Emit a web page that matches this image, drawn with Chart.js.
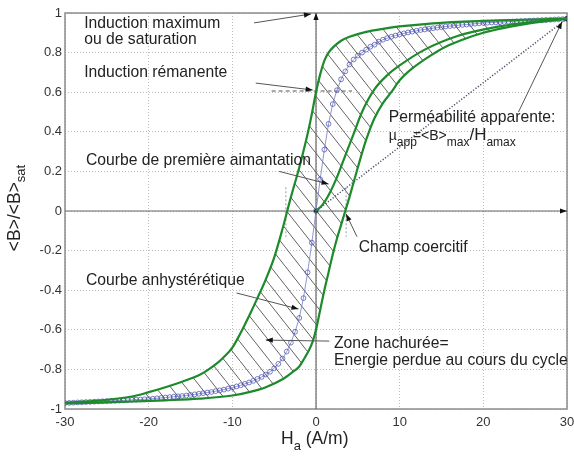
<!DOCTYPE html>
<html>
<head>
<meta charset="utf-8">
<script src="https://cdn.jsdelivr.net/npm/chart.js@4.4.0/dist/chart.umd.min.js"></script>
<style>
  html, body { margin: 0; padding: 0; background: #fff; }
</style>
</head>
<body>
<canvas id="cycleChart" width="574" height="459"></canvas>
<script>
// Branche descendante du cycle (rangée par H croissant)
const upperH = [-30, -26, -22, -20, -18, -16, -14, -13, -12, -11, -10, -9, -8, -7, -6, -5, -4, -3, -2, -1, -0.5, 0, 0.5, 1, 1.5, 2, 3, 4, 6, 8, 10, 14, 20, 25, 30];
const upperB = [-0.968, -0.958, -0.937, -0.915, -0.89, -0.862, -0.83, -0.805, -0.775, -0.737, -0.69, -0.615, -0.53, -0.44, -0.345, -0.235, -0.09, 0.07, 0.22, 0.39, 0.49, 0.6, 0.69, 0.76, 0.8, 0.825, 0.86, 0.88, 0.905, 0.92, 0.932, 0.948, 0.96, 0.966, 0.972];

// Branche ascendante
const lowerH = [-30, -26, -22, -18, -14, -10, -8, -6, -4, -3, -2, -1.4, -0.8, -0.4, 0, 0.5, 1, 1.5, 2, 2.5, 3, 3.5, 4, 5, 6, 7, 8, 9, 10, 11.5, 13.5, 15.5, 17.5, 20, 22.5, 25.5, 30];
const lowerB = [-0.972, -0.968, -0.962, -0.956, -0.948, -0.932, -0.915, -0.89, -0.85, -0.82, -0.785, -0.745, -0.7, -0.66, -0.6, -0.5, -0.4, -0.31, -0.22, -0.14, -0.07, 0, 0.07, 0.22, 0.36, 0.47, 0.545, 0.6, 0.66, 0.72, 0.78, 0.83, 0.865, 0.9, 0.925, 0.948, 0.972];

// Courbe de première aimantation
const firstH = [0, 0.75, 1.5, 2.5, 3.5, 4.5, 5.5, 7, 8.5, 10, 13, 17, 21, 25, 30];
const firstB = [0, 0.03, 0.08, 0.17, 0.28, 0.39, 0.5, 0.615, 0.685, 0.735, 0.815, 0.885, 0.925, 0.95, 0.972];

// Courbe anhystérétique (points marqués)
const anhystH = [
  -30, -29.5, -29, -28.5, -28, -27.5, -27, -26.5, -26, -25.5, -25, -24.5, -24, -23.5, -23, -22.5, -22, -21.5, -21, -20.5,
  -20, -19.5, -19, -18.5, -18, -17.5, -17, -16.5, -16, -15.5, -15, -14.5, -14, -13.5, -13, -12.5, -12, -11.5, -11, -10.5,
  -10, -9.5, -9, -8.5, -8, -7.5, -7, -6.5, -6, -5.5, -5, -4.5, -4, -3.5, -3, -2.5, -2, -1.5, -1, -0.5,
  0, 0.5, 1, 1.5, 2, 2.5, 3, 3.5, 4, 4.5, 5, 5.5, 6, 6.5, 7, 7.5, 8, 8.5, 9, 9.5,
  10, 10.5, 11, 11.5, 12, 12.5, 13, 13.5, 14, 14.5, 15, 15.5, 16, 16.5, 17, 17.5, 18, 18.5, 19, 19.5,
  20, 20.5, 21, 21.5, 22, 22.5, 23, 23.5, 24, 24.5, 25, 25.5, 26, 26.5, 27, 27.5, 28, 28.5, 29, 29.5, 30
];
const anhystB = [
  -0.97, -0.969, -0.968, -0.967, -0.966, -0.965, -0.964, -0.963, -0.962, -0.961, -0.96, -0.959, -0.958, -0.957, -0.956, -0.955, -0.954, -0.953, -0.952, -0.951,
  -0.95, -0.948, -0.946, -0.944, -0.942, -0.94, -0.938, -0.936, -0.934, -0.932, -0.929, -0.926, -0.923, -0.92, -0.917, -0.914, -0.91, -0.906, -0.902, -0.897,
  -0.892, -0.886, -0.88, -0.873, -0.866, -0.858, -0.848, -0.838, -0.826, -0.812, -0.795, -0.772, -0.745, -0.71, -0.665, -0.61, -0.54, -0.44, -0.31, -0.16,
  0, 0.16, 0.31, 0.44, 0.54, 0.61, 0.665, 0.705, 0.74, 0.765, 0.785, 0.8, 0.815, 0.83, 0.84, 0.855, 0.865, 0.873, 0.88, 0.886,
  0.892, 0.897, 0.902, 0.906, 0.91, 0.914, 0.917, 0.92, 0.923, 0.926, 0.929, 0.932, 0.934, 0.936, 0.938, 0.94, 0.942, 0.944, 0.946, 0.948,
  0.95, 0.951, 0.952, 0.953, 0.954, 0.955, 0.956, 0.957, 0.958, 0.959, 0.96, 0.961, 0.962, 0.963, 0.964, 0.965, 0.966, 0.967, 0.968, 0.969, 0.97
];

// Droite de perméabilité apparente
const permH = [0, 30];
const permB = [0, 0.972];

const hTicks = ['-30', '-20', '-10', '0', '10', '20', '30'];
const bTicks = ['-1', '-0.8', '-0.6', '-0.4', '-0.2', '0', '0.2', '0.4', '0.6', '0.8', '1'];

const family = '"Liberation Sans", Arial, sans-serif';
const green = '#1d8a2b';

// Textes et flèches, placés en coordonnées (H, B)
const notes = [
  ['Induction maximum', -27.7, 0.924],
  ['ou de saturation', -27.7, 0.843],
  ['Induction rémanente', -27.7, 0.677],
  ['Courbe de première aimantation', -27.5, 0.232],
  ['Courbe anhystérétique', -27.5, -0.374],
  ['Champ coercitif', 5.1, -0.207],
  ['Zone hachurée=', 2.15, -0.692],
  ['Energie perdue au cours du cycle', 2.15, -0.778],
  ['Perméabilité apparente:', 8.7, 0.449]
];
const pointers = [
  [-7.4, 0.95, -0.6, 0.995],
  [-7.2, 0.646, -0.4, 0.611],
  [-4.4, 0.2, 1.5, 0.136],
  [4.9, -0.13, 3.6, -0.015],
  [-9.5, -0.414, -2.1, -0.495],
  [1.6, -0.657, -6, -0.652],
  [24.2, 0.5, 29.4, 0.955]
];

const toPoints = (hs, bs) => hs.map((h, i) => ({ x: h, y: bs[i] }));

const canvas = document.getElementById('cycleChart');
const ctx = canvas.getContext('2d');

// motif de hachures pour la zone du cycle
const tile = document.createElement('canvas');
tile.width = 15;
tile.height = 19;
const tctx = tile.getContext('2d');
tctx.strokeStyle = 'rgba(70,70,70,0.85)';
tctx.lineWidth = 1;
tctx.beginPath();
tctx.moveTo(-1.5, -1.9);
tctx.lineTo(16.5, 20.9);
tctx.stroke();
const hatch = ctx.createPattern(tile, 'repeat');

function arrow(c, x1, y1, x2, y2) {
  c.beginPath();
  c.moveTo(x1, y1);
  c.lineTo(x2, y2);
  c.stroke();
  const a = Math.atan2(y2 - y1, x2 - x1), len = 7, w = 2.6;
  c.beginPath();
  c.moveTo(x2, y2);
  c.lineTo(x2 - len * Math.cos(a) + w * Math.sin(a), y2 - len * Math.sin(a) - w * Math.cos(a));
  c.lineTo(x2 - len * Math.cos(a) - w * Math.sin(a), y2 - len * Math.sin(a) + w * Math.cos(a));
  c.closePath();
  c.fill();
}

// texte avec indices : [texte, taille, décalage vertical, décalage horizontal]
function partsWidth(c, parts) {
  return parts.reduce((s, [t, size, dy, dx = 0]) => {
    c.font = `${size}px ${family}`;
    return s + dx + c.measureText(t).width;
  }, 0);
}
function drawParts(c, parts, x, y) {
  parts.forEach(([t, size, dy, dx = 0]) => {
    c.font = `${size}px ${family}`;
    c.fillText(t, x + dx, y + dy);
    x += dx + c.measureText(t).width;
  });
}

const framePlugin = {
  id: 'frame',
  beforeDatasetsDraw(chart) {
    const { ctx: c, chartArea: a, scales: { x, y } } = chart;
    c.save();
    c.strokeStyle = '#8c8c8c';
    c.lineWidth = 1.5;
    c.strokeRect(a.left, a.top, a.right - a.left, a.bottom - a.top);
    c.strokeStyle = '#666';
    c.fillStyle = '#111';
    c.lineWidth = 1.2;
    arrow(c, x.getPixelForValue(0), a.bottom, x.getPixelForValue(0), a.top);
    arrow(c, a.left, y.getPixelForValue(0), a.right, y.getPixelForValue(0));
    // repères en pointillés
    c.lineWidth = 1;
    c.setLineDash([4, 3]);
    c.strokeStyle = '#555';
    c.beginPath();
    c.moveTo(x.getPixelForValue(-5.3), y.getPixelForValue(0.606));
    c.lineTo(x.getPixelForValue(4.3), y.getPixelForValue(0.606));
    c.stroke();
    c.setLineDash([2, 2]);
    c.strokeStyle = '#999';
    [-3.6, 3.6].forEach(h => {
      c.beginPath();
      c.moveTo(x.getPixelForValue(h), y.getPixelForValue(0.12));
      c.lineTo(x.getPixelForValue(h), y.getPixelForValue(-0.13));
      c.stroke();
    });
    c.restore();
  },
  afterDatasetsDraw(chart) {
    const { ctx: c, chartArea: a, scales: { x, y } } = chart;
    const X = v => x.getPixelForValue(v), Y = v => y.getPixelForValue(v);
    c.save();
    c.strokeStyle = '#555';
    c.fillStyle = '#111';
    c.lineWidth = 1;
    pointers.forEach(([h1, b1, h2, b2]) => arrow(c, X(h1), Y(b1), X(h2), Y(b2)));

    c.fillStyle = '#222';
    c.textBaseline = 'alphabetic';
    c.textAlign = 'left';
    c.font = `15.7px ${family}`;
    notes.forEach(([t, h, b]) => c.fillText(t, X(h), Y(b)));

    // µapp = <B>max / Hamax
    drawParts(c, [
      ['µ', 14, 0], ['app', 12, 6], ['=<B>', 14, 0, -4],
      ['max', 12, 6], ['/H', 17, 0], ['amax', 12, 6]
    ], X(8.7), Y(0.359));

    // titres des axes
    c.fillStyle = '#222';
    const xt = [['H', 17.5, 0], ['a', 13, 6], [' (A/m)', 17.5, 0]];
    drawParts(c, xt, X(0) - 35, 444);
    const yt = [['<B>/<B>', 17.5, 0], ['sat', 13, 5]];
    c.translate(20, (a.top + a.bottom) / 2 - 3);
    c.rotate(-Math.PI / 2);
    drawParts(c, yt, -partsWidth(c, yt) / 2, 0);
    c.restore();
  }
};

new Chart(ctx, {
  type: 'line',
  data: {
    datasets: [
      {
        label: 'Branche descendante',
        data: toPoints(upperH, upperB),
        borderColor: green,
        borderWidth: 2.2,
        pointRadius: 0,
        cubicInterpolationMode: 'monotone',
        fill: '+1',
        backgroundColor: hatch,
        order: 1
      },
      {
        label: 'Branche ascendante',
        data: toPoints(lowerH, lowerB),
        borderColor: green,
        borderWidth: 2.2,
        pointRadius: 0,
        cubicInterpolationMode: 'monotone',
        fill: false,
        order: 0
      },
      {
        label: 'Première aimantation',
        data: toPoints(firstH, firstB),
        borderColor: green,
        borderWidth: 2.2,
        pointRadius: 0,
        cubicInterpolationMode: 'monotone',
        fill: false,
        order: 2
      },
      {
        label: 'Anhystérétique',
        data: toPoints(anhystH, anhystB),
        borderColor: 'rgba(125,130,205,0.85)',
        borderWidth: 1,
        pointRadius: 2.4,
        pointBorderWidth: 0.9,
        pointBorderColor: 'rgba(70,76,170,0.8)',
        pointBackgroundColor: 'rgba(255,255,255,0)',
        fill: false,
        order: 3
      },
      {
        label: 'Perméabilité apparente',
        data: toPoints(permH, permB),
        borderColor: '#4a5068',
        borderWidth: 1.5,
        borderDash: [1.2, 1.8],
        pointRadius: [2, 2.6],
        pointBorderWidth: 0,
        pointBackgroundColor: '#111',
        fill: false,
        order: 4
      }
    ]
  },
  options: {
    responsive: false,
    animation: false,
    layout: { padding: { top: 13, right: 7, bottom: 0, left: 0 } },
    plugins: {
      legend: { display: false },
      tooltip: { enabled: false },
      filler: { drawTime: 'beforeDatasetsDraw' }
    },
    scales: {
      x: {
        type: 'linear',
        min: -30,
        max: 30,
        border: { display: false, dash: [1, 2] },
        grid: { color: '#bdbdbd', drawTicks: false },
        ticks: {
          stepSize: 10,
          padding: 6,
          color: '#333',
          font: { family: family, size: 13 },
          callback: (v, i) => hTicks[i]
        },
        afterFit: s => { s.height = 50; s.paddingLeft = 0; s.paddingRight = 0; }
      },
      y: {
        type: 'linear',
        min: -1,
        max: 1,
        border: { display: false, dash: [1, 2] },
        grid: { color: '#bdbdbd', drawTicks: false },
        ticks: {
          stepSize: 0.2,
          padding: 3,
          color: '#333',
          font: { family: family, size: 13 },
          callback: (v, i) => bTicks[i]
        },
        afterFit: s => { s.width = 65; s.paddingTop = 0; s.paddingBottom = 0; }
      }
    }
  },
  plugins: [framePlugin]
});
</script>
</body>
</html>
